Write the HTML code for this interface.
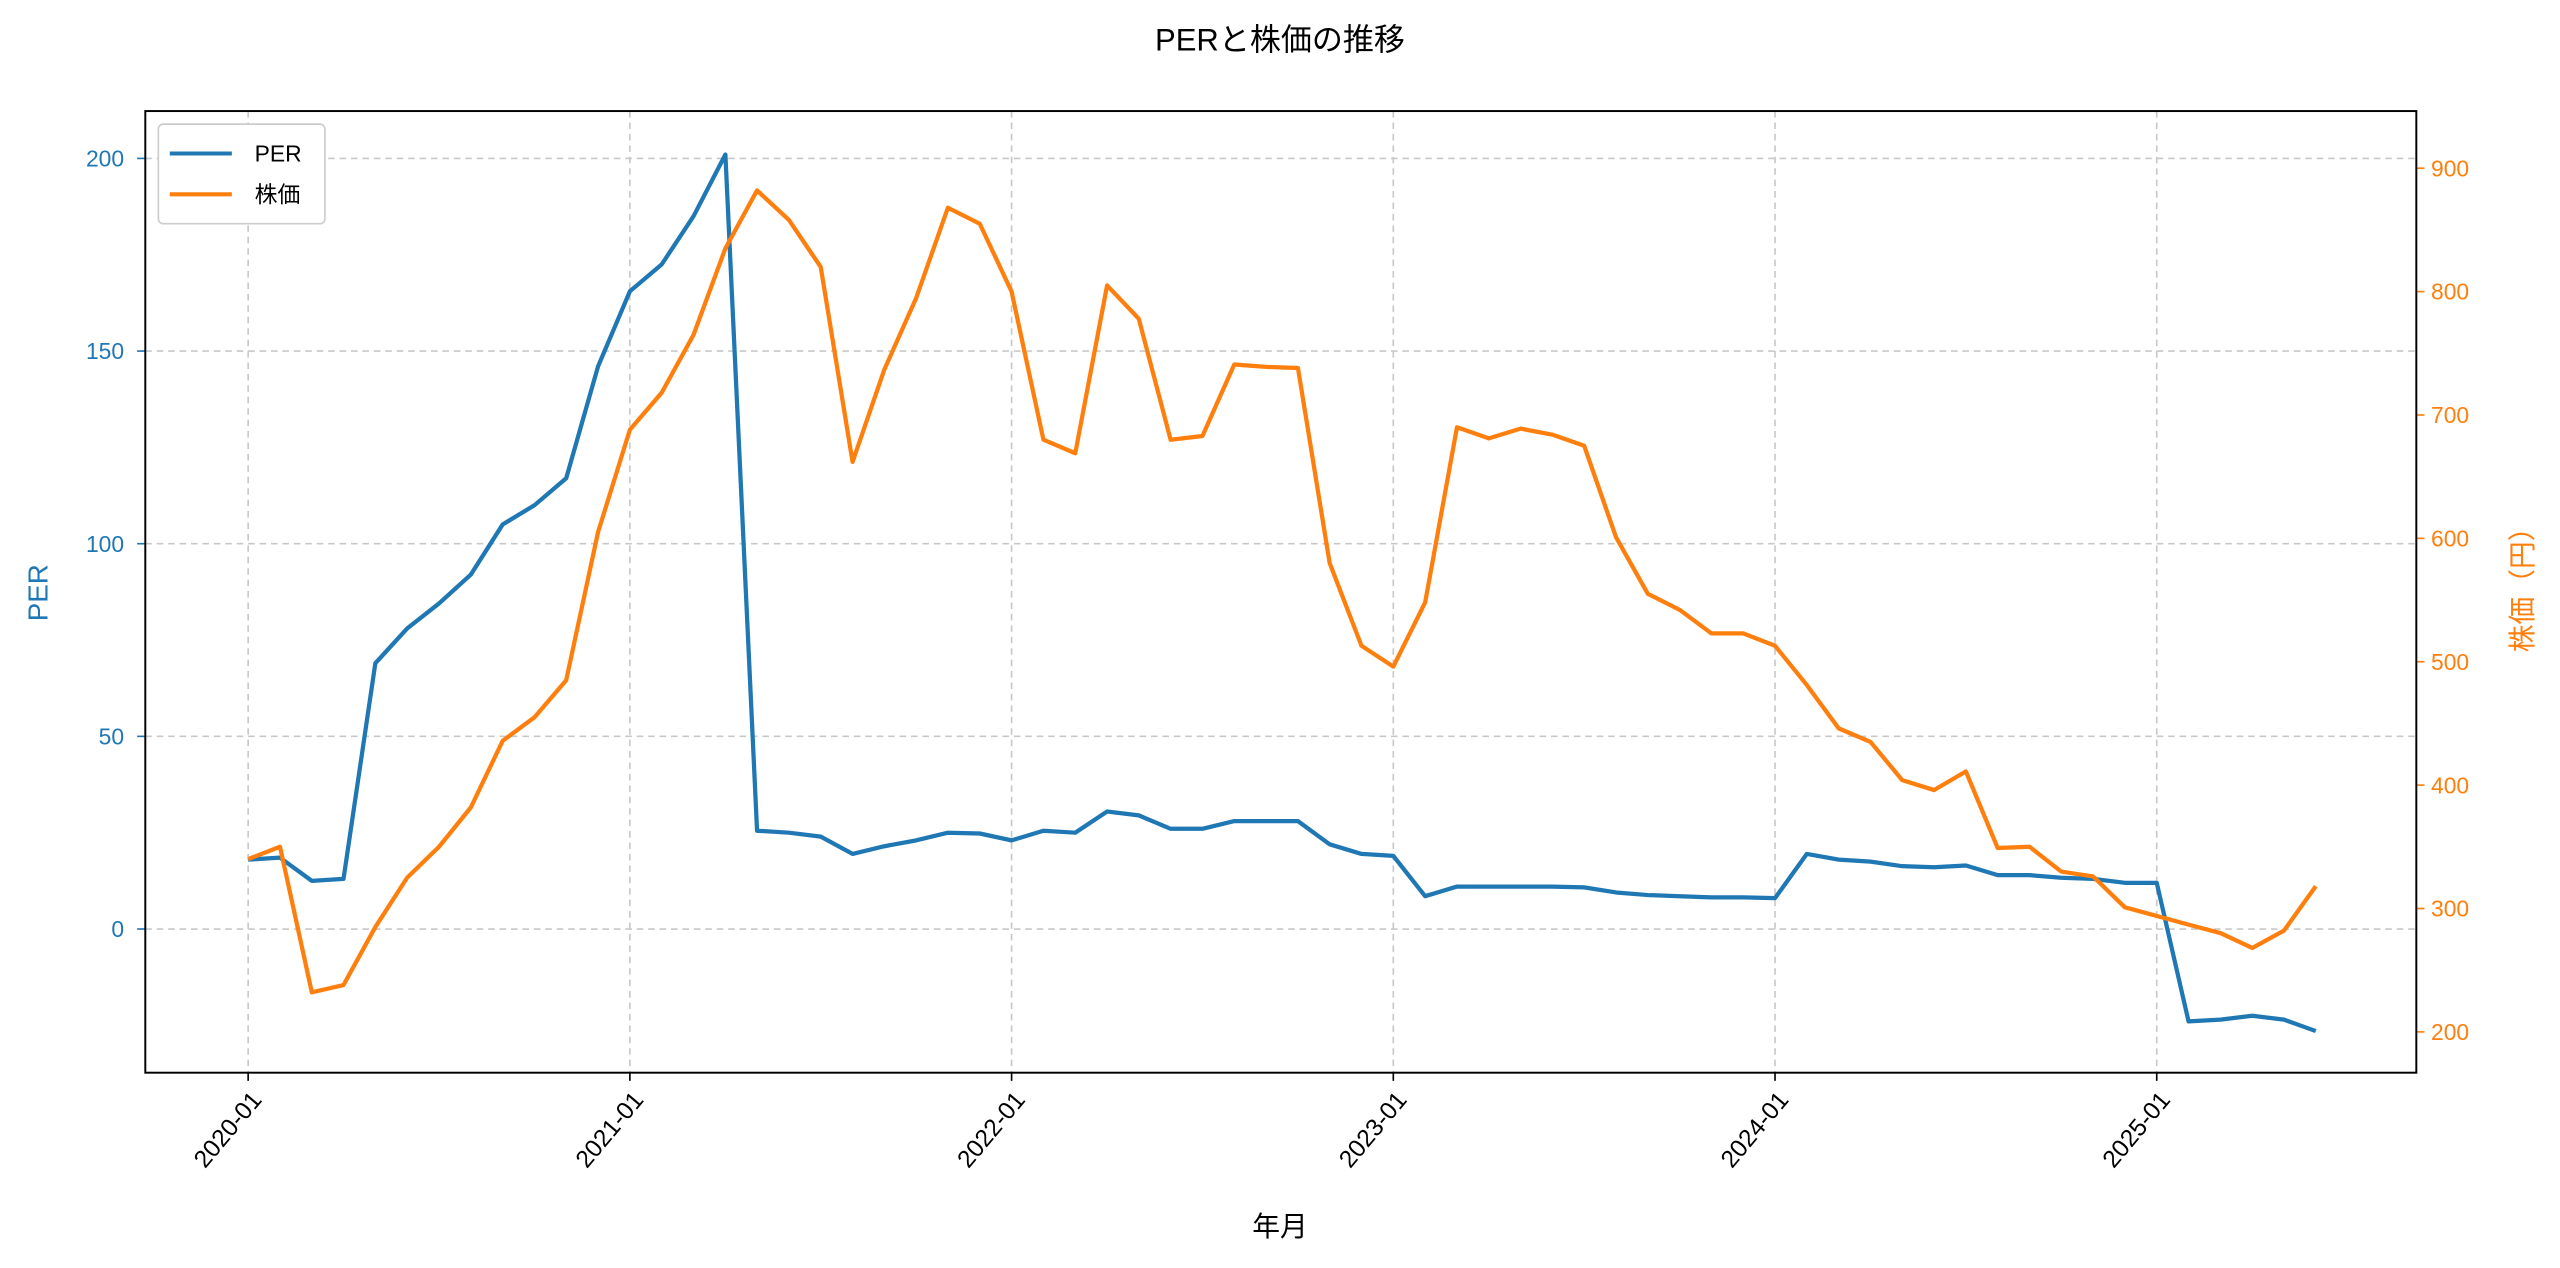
<!DOCTYPE html>
<html><head><meta charset="utf-8"><style>
html,body{margin:0;padding:0;background:#fff;}
svg{display:block;font-family:"Liberation Sans","Noto Sans CJK JP",sans-serif;}
</style></head><body>
<svg id="chart" width="2560" height="1268" viewBox="0 0 1568 776.6" xmlns="http://www.w3.org/2000/svg">
<rect width="1568" height="776.6" fill="#fff"/>
<text x="784" y="31" text-anchor="middle" font-size="19" fill="#000">PERと株価の推移</text>
<g id="grid"></g>
<g id="axes"></g>
<g id="lines"></g>
<rect x="89" y="68" width="1391" height="589" fill="none" stroke="#000" stroke-width="1.2"/>
<g>
<rect x="97" y="76" width="102" height="61" rx="3" fill="#fff" stroke="#ccc" stroke-width="1"/>
<line x1="104" y1="94" x2="142" y2="94" stroke="#1f77b4" stroke-width="2.5"/>
<text x="156" y="99" font-size="14">PER</text>
<line x1="104" y1="119" x2="142" y2="119" stroke="#ff7f0e" stroke-width="2.5"/>
<text x="156" y="124" font-size="14">株価</text>
</g>
<text x="784" y="757" text-anchor="middle" font-size="17">年月</text>
<text transform="translate(29,363) rotate(-90)" text-anchor="middle" font-size="17" fill="#1f77b4">PER</text>
<text transform="translate(1551,357) rotate(-90)" text-anchor="middle" font-size="17" fill="#ff7f0e">株価（円）</text>
</svg>
<script>
const perValues=[18,18.5,12.5,13,69,78,84.5,92,105,110,117,146,165.5,172.5,185,201,25.5,25,24,19.5,21.5,23,25,24.8,23,25.5,25,30.5,29.5,26,26,28,28,28,22,19.5,19,8.5,11,11,11,11,10.8,9.5,8.8,8.5,8.2,8.2,8,19.5,18,17.5,16.3,16,16.5,14,14,13.3,13,12,12,-24,-23.5,-22.5,-23.5,-26.5];
const priceValues=[340,350,232,238,285,325,350,382,436,455,485,605,688,718,765,835,882,858,820,662,737,795,868,855,800,680,669,805,778,680,683,741,739,738,580,513,496,548,690,681,689,684,675,601,555,542,523,523,513,481,446,435,404,396,411,349,350,330,326,301,294,287,280,268,282,318];
const xTickLabels=["2020-01","2021-01","2022-01","2023-01","2024-01","2025-01"];
const perTicks=[0,50,100,150,200];
const priceTicks=[200,300,400,500,600,700,800,900];
const startYear=2020;

const NS="http://www.w3.org/2000/svg";
const xScale=m=>152+(1169/60)*m;
const yPer=v=>569-(472/200)*v;
const yPrice=v=>632-(529/700)*(v-200);
function mk(tag,attrs,parent){const e=document.createElementNS(NS,tag);for(const k in attrs)e.setAttribute(k,attrs[k]);parent.appendChild(e);return e;}
const grid=document.getElementById('grid'),axes=document.getElementById('axes'),lines=document.getElementById('lines');

xTickLabels.forEach((lab,i)=>{
  const x=xScale(i*12);
  const g=mk('line',{x1:x,y1:68,x2:x,y2:657,stroke:'#c8c8c8','stroke-dasharray':'4,3','stroke-width':1},grid);
  
  
  const t=mk('line',{x1:x,y1:657,x2:x,y2:662,stroke:'#000'},axes);
  
  
  const tx=mk('text',{transform:`translate(${x+9},${674}) rotate(-50)`,'text-anchor':'end','font-size':15},axes);
  tx.textContent=lab;
  
  
});
perTicks.forEach(v=>{
  const y=yPer(v);
  const g=mk('line',{x1:89,y1:y,x2:1480,y2:y,stroke:'#c8c8c8','stroke-dasharray':'4,3','stroke-width':1},grid);
  
  
  const t=mk('line',{x1:84,y1:y,x2:89,y2:y,stroke:'#1f77b4'},axes);
  
  
  const tx=mk('text',{x:76,y:y+5,'text-anchor':'end','font-size':14,fill:'#1f77b4'},axes);
  tx.textContent=v;
  
  
});
priceTicks.forEach(v=>{
  const y=yPrice(v);
  const t=mk('line',{x1:1480,y1:y,x2:1485,y2:y,stroke:'#ff7f0e'},axes);
  
  
  const tx=mk('text',{x:1489,y:y+5,'font-size':14,fill:'#ff7f0e'},axes);
  tx.textContent=v;
  
  
});
const perPts=perValues.map((v,i)=>xScale(i).toFixed(1)+','+yPer(v).toFixed(1)).join(' ');
const pricePts=priceValues.map((v,i)=>xScale(i).toFixed(1)+','+yPrice(v).toFixed(1)).join(' ');
const lp=mk('polyline',{points:perPts,fill:'none',stroke:'#1f77b4','stroke-width':2.6,'stroke-linejoin':'round'},lines);


const lo=mk('polyline',{points:pricePts,fill:'none',stroke:'#ff7f0e','stroke-width':2.6,'stroke-linejoin':'round'},lines);


</script>
</body></html>
